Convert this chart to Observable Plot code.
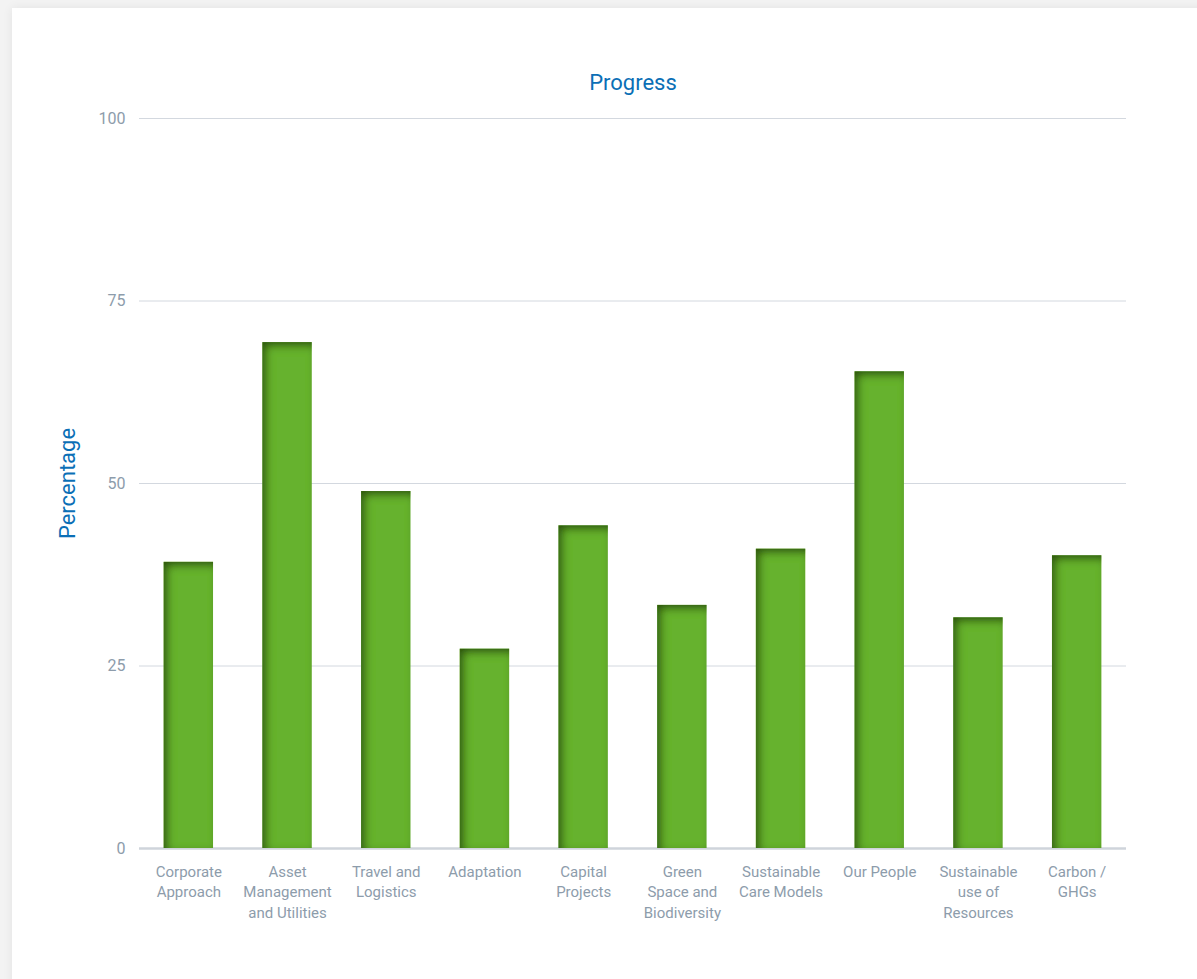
<!DOCTYPE html>
<html>
<head>
<meta charset="utf-8">
<script src="https://cdn.jsdelivr.net/npm/d3@7"></script>
<script src="https://cdn.jsdelivr.net/npm/@observablehq/plot@0.6"></script>
<style>
  html, body { margin: 0; padding: 0; }
  body { width: 1197px; height: 979px; background: #f3f3f3; position: relative; overflow: hidden; font-family: Roboto, "Open Sans", sans-serif; }
  #card { position: absolute; left: 12px; top: 8px; right: -20px; bottom: -20px; background: #fff; box-shadow: 0 0 10px rgba(0,0,0,0.07); }
  #chart { position: absolute; left: 0; top: 0; }
</style>
</head>
<body>
<div id="card"></div>
<div id="chart"></div>
<script>
const categories = [
  "Corporate Approach", "Asset Management and Utilities", "Travel and Logistics", "Adaptation",
  "Capital Projects", "Green Space and Biodiversity", "Sustainable Care Models", "Our People",
  "Sustainable use of Resources", "Carbon / GHGs"
];
const tickLabels = [
  "Corporate\nApproach", "Asset\nManagement\nand Utilities", "Travel and\nLogistics", "Adaptation",
  "Capital\nProjects", "Green\nSpace and\nBiodiversity", "Sustainable\nCare Models", "Our People",
  "Sustainable\nuse of\nResources", "Carbon /\nGHGs"
];
const values = [39.2, 69.3, 48.9, 27.3, 44.2, 33.3, 41.0, 65.3, 31.6, 40.1];
const yTicks = [0, 25, 50, 75, 100];
const title = "Progress";
const yLabel = "Percentage";

const data = categories.map((c, i) => ({category: c, value: values[i]}));
const labelOf = new Map(categories.map((c, i) => [c, tickLabels[i]]));

const plot = Plot.plot({
  width: 1197,
  height: 979,
  marginLeft: 139,
  marginRight: 71,
  marginTop: 118,
  marginBottom: 131,
  style: {background: "transparent", fontFamily: "Roboto, 'Open Sans', sans-serif", overflow: "visible"},
  x: {domain: categories, paddingInner: 0.5, paddingOuter: 0.25, round: false, label: null},
  y: {domain: [0, 100], label: null},
  marks: [
    Plot.gridY(yTicks, {stroke: "#d3d8df", strokeOpacity: 1, strokeWidth: 1}),
    Plot.ruleY([0], {stroke: "#cfd4db", strokeWidth: 2.5}),
    Plot.barY(data, {x: "category", y: "value", fill: "#66b22f"}),
    Plot.axisY({ticks: yTicks, tickSize: 0, tickPadding: 14, fontSize: 16, fill: "#8d9cab", label: null}),
    Plot.axisX({tickSize: 0, tickPadding: 14, fontSize: 15, fill: "#8d9cab", lineHeight: 1.36, tickFormat: d => labelOf.get(d), label: null}),
    Plot.text([title], {frameAnchor: "top", dy: -44, fontSize: 22, fill: "#0b6fb6"}),
    Plot.text([yLabel], {frameAnchor: "left", textAnchor: "middle", dx: -72, rotate: -90, fontSize: 22, fill: "#0b6fb6"})
  ]
});

// inner shadow for bars
const ns = "http://www.w3.org/2000/svg";
const defs = document.createElementNS(ns, "defs");
defs.innerHTML = `
<filter id="innerShadow" x="-20%" y="-20%" width="140%" height="140%">
  <feFlood flood-color="#2a5010" flood-opacity="1" result="flood"/>
  <feComposite in="flood" in2="SourceAlpha" operator="out" result="outside"/>
  <feOffset in="outside" dx="4" dy="4" result="off"/>
  <feGaussianBlur in="off" stdDeviation="4" result="blur"/>
  <feComposite in="blur" in2="SourceAlpha" operator="in" result="inner"/>
  <feMerge><feMergeNode in="SourceGraphic"/><feMergeNode in="inner"/></feMerge>
</filter>`;
plot.insertBefore(defs, plot.firstChild);
plot.querySelectorAll('g[aria-label="bar"] rect').forEach(r => r.setAttribute("filter", "url(#innerShadow)"));

document.getElementById("chart").appendChild(plot);
</script>
</body>
</html>
